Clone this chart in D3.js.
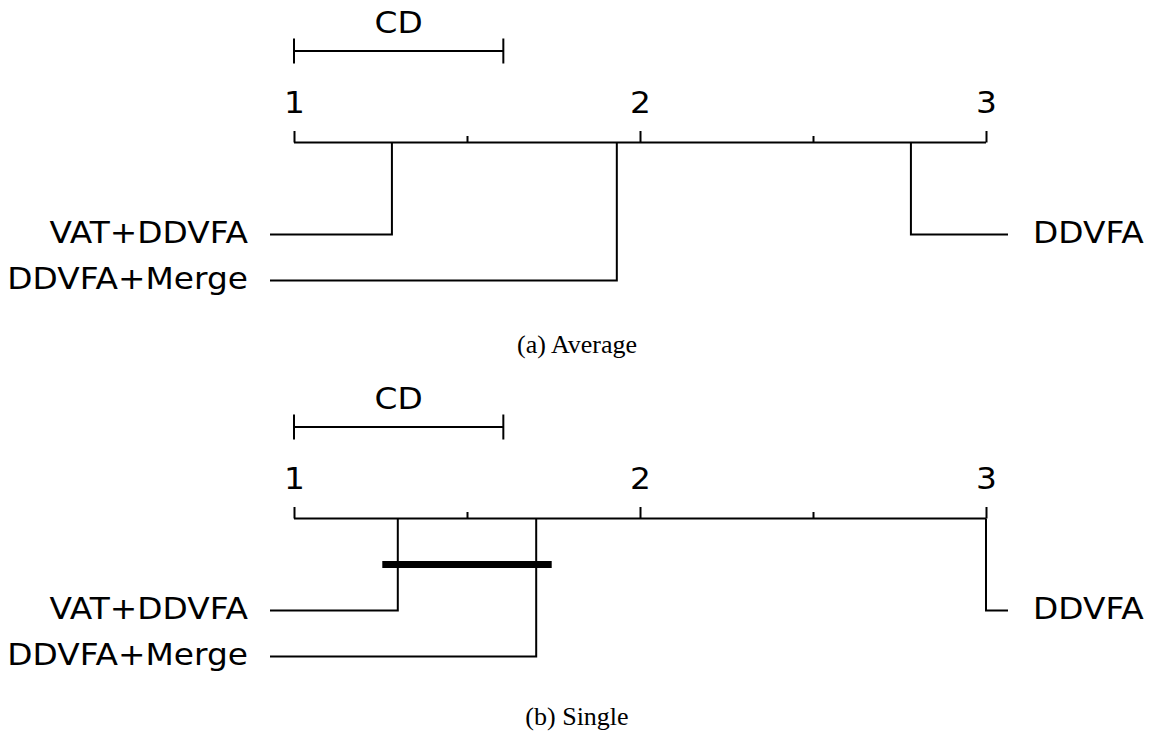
<!DOCTYPE html>
<html>
<head>
<meta charset="utf-8">
<script src="https://cdn.jsdelivr.net/npm/d3@7"></script>
<style>
  html, body { margin: 0; padding: 0; background: #fff; }
  svg { display: block; }
</style>
</head>
<body>
<svg id="chart" width="1152" height="733"></svg>
<script>
// Critical difference diagrams (Nemenyi test) for two linkage settings
const methods = ["VAT+DDVFA", "DDVFA+Merge", "DDVFA"];
const averageRanks = [1.283, 1.933, 2.783];
const singleRanks = [1.30, 1.70, 3.00];
const criticalDifference = 0.605;
const tickValues = [1, 1.5, 2, 2.5, 3];
const panelCaptions = ["(a) Average", "(b) Single"];

const panels = [
  { ranks: averageRanks, caption: panelCaptions[0], top: 0, captionY: 353 },
  { ranks: singleRanks, caption: panelCaptions[1], top: 376, captionY: 349 }
];

const svg = d3.select("#chart");
const x = d3.scaleLinear().domain([1, 3]).range([294, 986]);

const labelFont = "'DejaVu Sans', sans-serif";
const labelSize = 30;
const stretch = 1.095;   // labels are set slightly wide
const axisY = 142.5;
const rowY = [234.5, 280.5];
const leftLineStart = 270, rightLineEnd = 1008;

function label(g, tx, ty, anchor, str) {
  return g.append("text")
    .attr("transform", `translate(${tx},${ty}) scale(${stretch},1)`)
    .attr("text-anchor", anchor)
    .style("font-family", labelFont).style("font-size", labelSize + "px")
    .attr("fill", "#000")
    .text(str);
}

panels.forEach(p => {
  const g = svg.append("g").attr("transform", `translate(0,${p.top})`);

  // CD reference bar
  const cdG = g.append("g").attr("stroke", "#000").attr("stroke-width", 2);
  cdG.append("line").attr("x1", x(1)).attr("x2", x(1 + criticalDifference)).attr("y1", 51).attr("y2", 51);
  [1, 1 + criticalDifference].forEach(v => {
    cdG.append("line").attr("x1", x(v)).attr("x2", x(v)).attr("y1", 38.5).attr("y2", 63.5);
  });
  label(g, x(1 + criticalDifference / 2), 33, "middle", "CD");

  // rank axis with ticks pointing up
  const axis = d3.axisTop(x)
    .tickValues(tickValues)
    .tickSize(0)
    .tickFormat("");
  const axG = g.append("g").attr("transform", `translate(0,${axisY})`).call(axis);
  axG.select(".domain").attr("stroke", "#000").attr("stroke-width", 2).attr("d", `M${x(1)},0H${x(3)}`);
  axG.selectAll(".tick line")
    .attr("stroke", "#000").attr("stroke-width", 2)
    .attr("y2", d => Number.isInteger(d) ? -11.5 : -6.5);
  axG.selectAll(".tick").filter(d => Number.isInteger(d))
    .each(function (d) { label(d3.select(this), 0, -29.5, "middle", d3.format("d")(d)); });

  // connectors from each method's rank to its label
  const order = d3.range(p.ranks.length).sort((a, b) => p.ranks[a] - p.ranks[b]);
  const half = Math.ceil(order.length / 2);
  const leftSide = order.slice(0, half);
  const rightSide = order.slice(half).reverse();

  const lines = g.append("g").attr("fill", "none").attr("stroke", "#000").attr("stroke-width", 2);
  leftSide.forEach((m, i) => {
    const xr = x(p.ranks[m]);
    lines.append("path").attr("d", `M${xr},${axisY}V${rowY[i]}H${leftLineStart}`);
    label(g, 248, rowY[i] + 8.5, "end", methods[m]);
  });
  rightSide.forEach((m, i) => {
    const xr = x(p.ranks[m]);
    lines.append("path").attr("d", `M${xr},${axisY}V${rowY[i]}H${rightLineEnd}`);
    label(g, 1033, rowY[i] + 8.5, "start", methods[m]);
  });

  // cliques: groups of methods whose ranks differ by less than CD
  const sorted = order.map(m => p.ranks[m]);
  const cliques = [];
  for (let i = 0; i < sorted.length; i++) {
    let j = i;
    while (j + 1 < sorted.length && sorted[j + 1] - sorted[i] < criticalDifference) j++;
    if (j > i && !cliques.some(c => c[0] <= i && c[1] >= j)) cliques.push([i, j]);
  }
  cliques.forEach((c, k) => {
    g.append("line")
      .attr("x1", x(sorted[c[0]]) - 15.5).attr("x2", x(sorted[c[1]]) + 15.5)
      .attr("y1", axisY + 46 + k * 12).attr("y2", axisY + 46 + k * 12)
      .attr("stroke", "#000").attr("stroke-width", 7);
  });

  // panel caption
  g.append("text")
    .attr("x", 577).attr("y", p.captionY)
    .attr("text-anchor", "middle")
    .style("font-family", "'Liberation Serif', 'Times New Roman', serif")
    .style("font-size", "26px")
    .text(p.caption);
});
</script>
</body>
</html>
